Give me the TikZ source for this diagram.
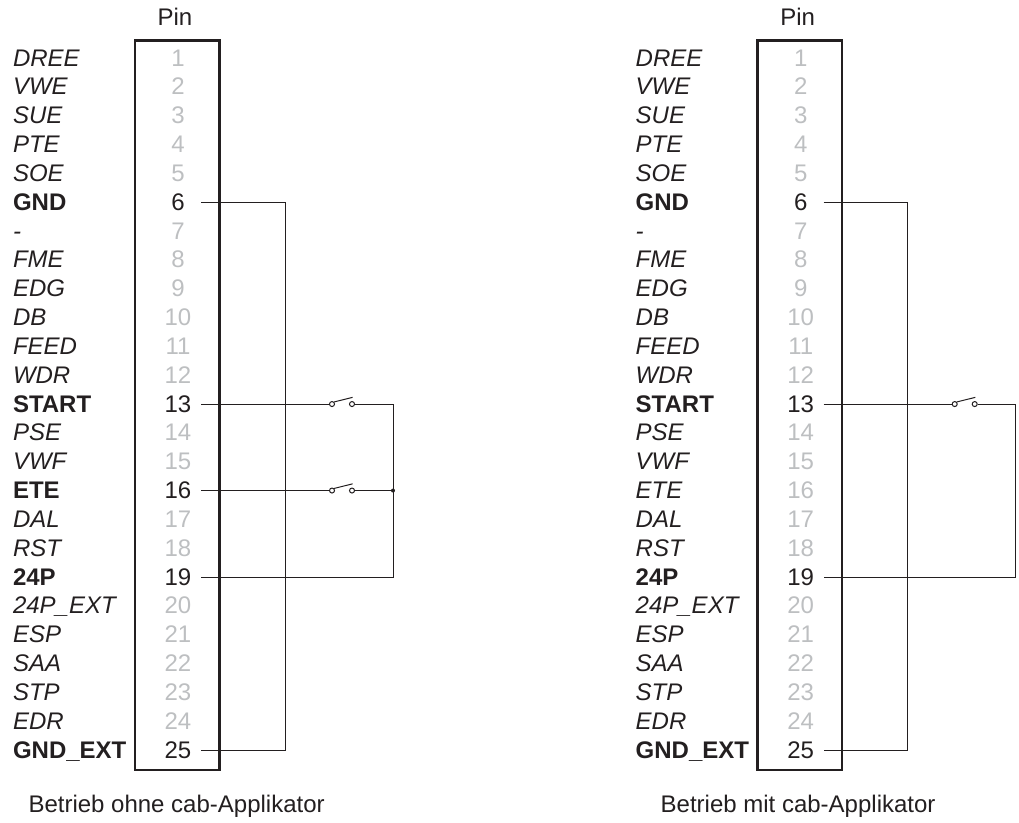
\documentclass[tikz,border=0pt]{standalone}
\usepackage{fontspec}
\setmainfont{Liberation Sans}
\definecolor{pinblack}{HTML}{231F20}
\definecolor{pingrey}{HTML}{BDBFC1}
\tikzset{
  x=1pt,y=-1pt,
  txt/.style={inner sep=0pt,outer sep=0pt,text=pinblack,font=\fontsize{24}{28}\selectfont},
  lab/.style={txt,anchor=base west},
  sig/.style={lab,font=\fontsize{24}{28}\selectfont\itshape},
  act/.style={lab,font=\fontsize{24}{28}\selectfont\bfseries},
  pinon/.style={txt,anchor=base},
  pinoff/.style={txt,anchor=base,text=pingrey},
  box/.style={draw=pinblack,line width=2.9pt,outer sep=0pt,minimum width=84.3pt,minimum height=729.3pt,inner sep=0pt,anchor=north west},
  wire/.style={draw=pinblack,line width=1pt},
  contact/.style={circle,draw=pinblack,line width=1pt,fill=white,minimum size=5pt,inner sep=0pt},
  junction/.style={circle,fill=pinblack,minimum size=4pt,inner sep=0pt},
}
\begin{document}
\begin{tikzpicture}
\useasboundingbox (0,0) rectangle (1019,822);
% left panel
\begin{scope}[name prefix=a]
  \node[box] (box) at (135,40.7) {};
  \node[txt,anchor=base] (pin) at (175,25) {Pin};
  \foreach \n/\t/\s/\p in {1/DREE/sig/pinoff,2/VWE/sig/pinoff,3/SUE/sig/pinoff,4/PTE/sig/pinoff,5/SOE/sig/pinoff,6/GND/act/pinon,7/-/sig/pinoff,8/FME/sig/pinoff,9/EDG/sig/pinoff,10/DB/sig/pinoff,11/FEED/sig/pinoff,12/WDR/sig/pinoff,13/START/act/pinon,14/PSE/sig/pinoff,15/VWF/sig/pinoff,16/ETE/act/pinon,17/DAL/sig/pinoff,18/RST/sig/pinoff,19/24P/act/pinon,20/24P\_EXT/sig/pinoff,21/ESP/sig/pinoff,22/SAA/sig/pinoff,23/STP/sig/pinoff,24/EDR/sig/pinoff,25/GND\_EXT/act/pinon}{
    \pgfmathsetmacro{\yy}{58.1+(\n-1)*28.83}
    \node[\s] (l\n) at (13,\yy+8) {\t};
    \node[\p] (p\n) at (178,\yy+8) {\n};
    \coordinate (w\n) at (201,\yy);
  }
  \coordinate (c6) at (285,0|-w6);
  \coordinate (c25) at (285,0|-w25);
  \coordinate (r13) at (393,0|-w13);
  \coordinate (r16) at (393,0|-w16);
  \coordinate (r19) at (393,0|-w19);
  \draw[wire] (w6) -- (c6) -- (c25) -- (w25);
  \node[contact] (s13a) at (332,0|-w13) {};
  \node[contact] (s13b) at (352,0|-w13) {};
  \node[contact] (s16a) at (332,0|-w16) {};
  \node[contact] (s16b) at (352,0|-w16) {};
  \draw[wire] (w13) -- (s13a);
  \draw[wire] (s13b) -- (r13) -- (r19) -- (w19);
  \draw[wire] (w16) -- (s16a);
  \draw[wire] (s16b) -- (r16);
  \draw[wire] (s13a.north east) -- ++(18.5,-4.6);
  \draw[wire] (s16a.north east) -- ++(18.5,-4.6);
  \node[junction] (j) at (r16) {};
  \node[txt,anchor=base west] (cap) at (28.5,812.3) {Betrieb ohne cab-Applikator};
\end{scope}
% right panel
\begin{scope}[name prefix=b,xshift=622.7pt]
  \node[box] (box) at (135,40.7) {};
  \node[txt,anchor=base] (pin) at (175,25) {Pin};
  \foreach \n/\t/\s/\p in {1/DREE/sig/pinoff,2/VWE/sig/pinoff,3/SUE/sig/pinoff,4/PTE/sig/pinoff,5/SOE/sig/pinoff,6/GND/act/pinon,7/-/sig/pinoff,8/FME/sig/pinoff,9/EDG/sig/pinoff,10/DB/sig/pinoff,11/FEED/sig/pinoff,12/WDR/sig/pinoff,13/START/act/pinon,14/PSE/sig/pinoff,15/VWF/sig/pinoff,16/ETE/sig/pinoff,17/DAL/sig/pinoff,18/RST/sig/pinoff,19/24P/act/pinon,20/24P\_EXT/sig/pinoff,21/ESP/sig/pinoff,22/SAA/sig/pinoff,23/STP/sig/pinoff,24/EDR/sig/pinoff,25/GND\_EXT/act/pinon}{
    \pgfmathsetmacro{\yy}{58.1+(\n-1)*28.83}
    \node[\s] (l\n) at (13,\yy+8) {\t};
    \node[\p] (p\n) at (178,\yy+8) {\n};
    \coordinate (w\n) at (201,\yy);
  }
  \coordinate (c6) at (285,0|-w6);
  \coordinate (c25) at (285,0|-w25);
  \coordinate (r13) at (393,0|-w13);
  \coordinate (r19) at (393,0|-w19);
  \draw[wire] (w6) -- (c6) -- (c25) -- (w25);
  \node[contact] (s13a) at (332,0|-w13) {};
  \node[contact] (s13b) at (352,0|-w13) {};
  \draw[wire] (w13) -- (s13a);
  \draw[wire] (s13b) -- (r13) -- (r19) -- (w19);
  \draw[wire] (s13a.north east) -- ++(18.5,-4.6);
  \node[txt,anchor=base west] (cap) at (38,812.3) {Betrieb mit cab-Applikator};
\end{scope}
\end{tikzpicture}
\end{document}
